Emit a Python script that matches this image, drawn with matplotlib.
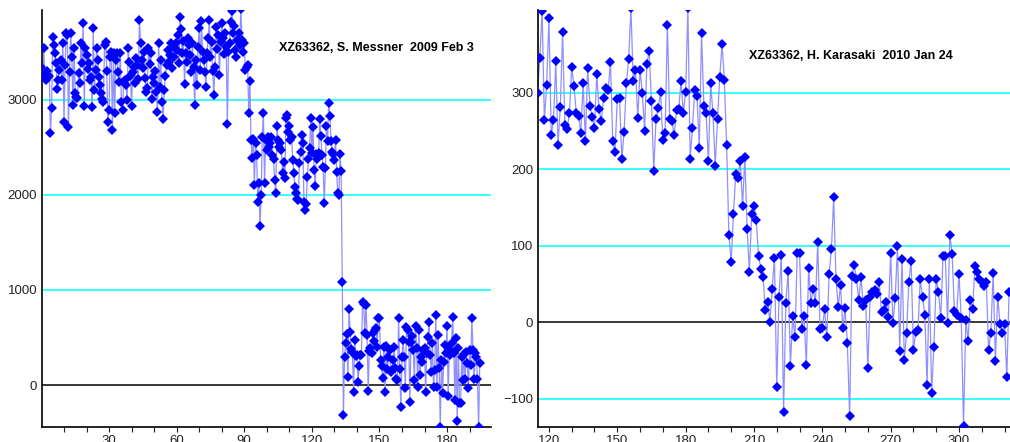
import numpy as np
import matplotlib.pyplot as plt

plt.rcParams['font.family'] = ['Liberation Sans', 'DejaVu Sans']

# ---- data: left panel (S. Messner 2009 Feb 3), sampled every 0.5 units ----
messner_step = 0.5
messner_high = [
    3351, 3253, 3551, 3228, 3211, 3300, 3239, 3253, 2649, 2912,
    3667, 3580, 3491, 3386, 3112, 3211, 3316, 3420, 3211, 3597,
    2772, 3369, 3702, 3684, 2712, 3298, 3702, 3450, 2947, 3544,
    3070, 3035, 3018, 3280, 3176, 3597, 3390, 3814,
    2937, 3544, 3474, 3330, 3386, 3211, 3246, 2930, 3755, 3105,
    3316, 3544, 3420, 3246, 3158, 3070, 3007, 2982, 3579, 3614,
    3300, 2772, 2895, 3456, 3509, 2684, 3491, 2860, 3421, 3491,
    3290, 3193, 3491, 2982, 2895, 3193, 3211, 3158, 3000, 3544,
    3404, 3250, 2937, 3298, 3351, 3180, 3440, 3370, 3220, 3842,
    3597, 3421, 3333, 3500, 3228, 3088, 3123, 3544, 3380, 3491,
    3007, 3246, 3176, 3300, 3088, 2877, 3597, 3140, 3420, 2982,
    2796, 3105, 3250, 3369, 3526, 3404, 3474, 3600, 3333, 3562,
    3450, 3597, 3526, 3680, 3390, 3870,
    3744, 3491, 3620, 3168, 3491, 3400, 3649, 3579, 3474, 3298,
    3597, 3350, 2947, 3421, 3158, 3560, 3755, 3316, 3835, 3509,
    3420, 3298, 3140, 3491, 3650, 3842, 3456, 3614, 3300, 3053,
    3351, 3772, 3540, 3684, 3263, 3614, 3807, 3649, 3480, 3700,
    3560, 2747, 3509, 3597, 3820, 3941, 3702, 3779, 3526, 3450,
    3632, 3700, 3580, 3955,
]
messner_drop1 = [
    3632, 3509, 3597, 3316, 3351, 3369, 2860, 3200, 2579, 2386,
    2586, 2105, 2550, 2420, 1930, 2130, 1670, 2000,
]
messner_mid = [
    2614, 2860, 2123, 2579, 2474, 2614, 2509, 2544, 2614, 2421,
    2376, 2158, 2018, 2727, 2579, 2509, 2544, 2474, 2228, 2351,
    2176, 2807, 2842, 2667, 2727, 2579, 2614, 2369, 2228, 2088,
    2018, 1954, 1947, 2340, 2456, 2632, 2544, 1930, 1842, 1905,
    2193, 2376, 2491, 2807, 2446, 2720, 2263, 2095, 2432, 2376,
    2439, 2797, 2621, 2421, 2298, 1919, 2281, 2727, 2572, 2972,
    2832, 2572, 2456, 2432, 2369, 2579, 2246, 2025, 2000, 2432,
]
messner_drop2 = [2250, 1088, -320]
messner_low = [
    291, 439, 537, 81, 797, 562, 376, 351, -70, 474,
    305, 316, 35, 200, 316, 316, 878, 853, 544, 842,
    527, -60, 362, 386, 333, 544, 460, 579, 604, 404,
    702, 702, 263, 200, 70, 404, -70, 411, 165, 300,
    369, 140, 158, 263, 404, 176, 60, 53, 702, 165,
    -235, 298, 474, 291, -35, 614, 579, 456, -176, 456,
    516, 369, 53, 621, 386, -18, 579, 105,
    298, 246, 369, 386, -70, 340, 509, 667, 316, 140,
    439, -18, 158, 737, -18, 527, 176, -439, 263, -81,
    246, 421, 340, 621, -116, 376, 316, 439, 720, 340,
    -158, 491, -376, 386, -186, -193, 298, 53, 326, 60,
    351, 228, -35, 369, 211, 702, 369, 60, 333, 298,
    60, -439, 228,
]
messner_y = messner_high + messner_drop1 + messner_mid + messner_drop2 + messner_low
messner_x = np.arange(len(messner_y)) * messner_step

# ---- data: right panel (H. Karasaki 2010 Jan 24), one point per unit ----
karasaki_start = 115
karasaki_y = [
    300, 345, 407, 264, 310, 398, 244, 264, 341, 232,
    281, 379, 258, 252, 273, 333, 309, 274, 270, 247,
    313, 237, 332, 283, 268, 254, 325, 278, 263, 293,
    306, 303, 340, 237, 222, 292, 293, 213, 249, 312,
    344, 410, 315, 329, 267, 329, 300, 250, 338, 354,
    289, 198, 265, 280, 301, 238, 247, 389, 266, 263,
    244, 277, 279, 315, 273, 301, 410, 213, 254, 303,
    296, 228, 378, 283, 273, 210, 312, 273, 204, 265,
    321, 363, 317, 232, 114, 79, 142, 194, 189, 211,
    152, 216, 122, 66, 142, 152, 133, 87, 70, 59,
    16, 27, 0, 44, 84, -85, 33, 88, -118, 25,
    67, -57, 8, -20, 90, 91, -9, 8, -56, 71,
    25, 44, 25, 105, -9, -8, 17, -20, 63, 95,
    163, 57, 20, 49, -8, 18, -27, -123, 60, 75,
    57, 29, 59, 21, 29, -60, 33, 40, 42, 37,
    53, 13, 16, 27, 7, 91, -1, 31, 99, -38,
    83, -49, -14, 53, 80, -37, -13, -10, 56, 33,
    10, -82, 56, -93, -32, 56, 40, 5, 86, 86,
    -1, 114, 89, 14, 10, 63, 5, -136, 3, -24,
    29, 17, 73, 66, 57, 53, 47, 53, -37, -14,
    64, -51, 33, -2, -14, -2, -72, 40,
]
karasaki_x = karasaki_start + np.arange(len(karasaki_y))

messner_label = 'XZ63362, S. Messner  2009 Feb 3'
karasaki_label = 'XZ63362, H. Karasaki  2010 Jan 24'

# ---- figure ----
fig = plt.figure(figsize=(10.10, 4.42), dpi=100)
ax1 = fig.add_axes([42 / 1010, 15 / 442, 449 / 1010, 417 / 442])
ax2 = fig.add_axes([538 / 1010, 15 / 442, 472 / 1010, 417 / 442])


def style_panel(ax, x, y, xlim, ylim, grid_levels, xticks, minor_ticks):
    for lvl in grid_levels:
        ax.axhline(lvl, color='#00ffff', lw=1.1, zorder=1)
    ax.axhline(0, color='black', lw=1.1, zorder=1)
    ax.plot(x, y, color='#8f8fff', lw=0.9, zorder=2)
    ax.plot(x, y, 'D', color='#0000ff', ms=4.6, mew=0, zorder=3)
    ax.set_xlim(*xlim)
    ax.set_ylim(*ylim)
    ax.set_xticks(xticks)
    ax.set_xticks(minor_ticks, minor=True)
    ax.set_yticks(list(grid_levels) + [0])
    ax.spines['top'].set_visible(False)
    ax.spines['right'].set_visible(False)
    ax.spines['left'].set_linewidth(1.2)
    ax.spines['bottom'].set_linewidth(1.2)
    ax.tick_params(axis='y', length=0, pad=3.5, labelsize=9.5, colors='#222222')
    ax.tick_params(axis='x', which='both', length=3.5, width=0.8,
                   pad=2.5, labelsize=9.5, colors='#222222')


style_panel(ax1, messner_x, messner_y, (0.25, 199.5), (-442, 3947),
            [1000, 2000, 3000], np.arange(30, 200, 30), np.arange(10, 200, 10))
style_panel(ax2, karasaki_x, karasaki_y, (115.2, 322.4), (-137, 408),
            [-100, 100, 200, 300], np.arange(120, 330, 30), np.arange(120, 330, 10))

ax1.text(0.528, 0.910, messner_label, transform=ax1.transAxes,
         fontsize=9, fontweight='bold', va='center', ha='left')
ax2.text(0.447, 0.890, karasaki_label, transform=ax2.transAxes,
         fontsize=9, fontweight='bold', va='center', ha='left')

fig.savefig('out.png', dpi=100)
